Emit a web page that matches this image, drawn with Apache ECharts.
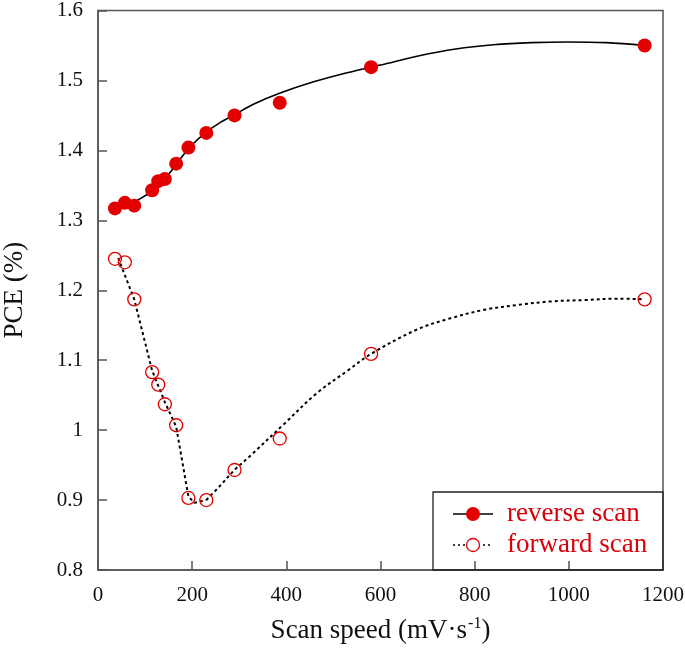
<!DOCTYPE html>
<html>
<head>
<meta charset="utf-8">
<script src="https://cdn.jsdelivr.net/npm/echarts@6/dist/echarts.min.js"></script>
<style>
html,body{margin:0;padding:0;background:#fff;}
#chart{width:685px;height:651px;}
</style>
</head>
<body>
<div id="chart"></div>
<script>
// Measured data points
const speed = [36, 57, 77, 115, 128, 142, 166, 192, 230, 290, 386, 580, 1161];
const reversePCE = [1.317, 1.325, 1.321, 1.343, 1.356, 1.359, 1.381, 1.404, 1.425, 1.450, 1.468, 1.519, 1.550];
const forwardPCE = [1.245, 1.240, 1.187, 1.083, 1.065, 1.037, 1.007, 0.903, 0.900, 0.943, 0.988, 1.109, 1.187];

// Trend curves
const reverseFitX = [36, 60, 90, 120, 150, 175, 200, 230, 260, 290, 330, 387, 458, 529, 600, 680, 760, 840, 920, 1000, 1080, 1161];
const reverseFitY = [1.315, 1.322, 1.331, 1.345, 1.366, 1.388, 1.408, 1.426, 1.440, 1.451, 1.466, 1.482, 1.498, 1.511, 1.522, 1.535, 1.545, 1.551, 1.554, 1.555, 1.554, 1.550];
const forwardFitAX = [43, 77, 115, 142, 166, 192, 205, 230];
const forwardFitAY = [1.246, 1.187, 1.085, 1.040, 1.005, 0.905, 0.896, 0.900];
const forwardFitBX = [230, 260, 290, 323, 394, 465, 530, 580, 678, 749, 820, 891, 962, 1033, 1104, 1161];
const forwardFitBY = [0.900, 0.921, 0.943, 0.963, 1.008, 1.053, 1.085, 1.109, 1.144, 1.160, 1.172, 1.179, 1.184, 1.186, 1.188, 1.187];

const xTicks = [0, 200, 400, 600, 800, 1000, 1200];
const yTicks = [0.8, 0.9, 1.0, 1.1, 1.2, 1.3, 1.4, 1.5, 1.6];
const legendNames = ['reverse scan', 'forward scan'];

const zip = (xs, ys) => xs.map((x, i) => [x, ys[i]]);
const FONT = '"Liberation Serif", "Times New Roman", serif';
const RED = '#e30000';
const AXIS = '#555';

const chart = echarts.init(document.getElementById('chart'));
chart.setOption({
  backgroundColor: '#fff',
  animation: false,
  grid: { left: 98, right: 22, top: 10.5, bottom: 81, containLabel: false, outerBoundsMode: 'none',
    show: true, borderColor: AXIS, borderWidth: 1.5 },
  xAxis: {
    type: 'value', min: xTicks[0], max: xTicks[xTicks.length - 1], interval: 200,
    name: 'Scan speed (mV·s{sup|-1})', nameLocation: 'middle', nameGap: 46,
    nameTextStyle: {
      fontFamily: FONT, fontSize: 27, color: '#111',
      rich: { sup: { fontFamily: FONT, fontSize: 16, color: '#111', verticalAlign: 'bottom', padding: [0, 0, 14, 1] } }
    },
    axisLine: { lineStyle: { color: AXIS, width: 1.5 } },
    axisTick: { inside: true, length: 9, lineStyle: { color: AXIS, width: 1.5 } },
    axisLabel: { fontFamily: FONT, fontSize: 21, color: '#111', margin: 15, formatter: v => String(v) },
    splitLine: { show: false }
  },
  yAxis: {
    type: 'value', min: yTicks[0], max: yTicks[yTicks.length - 1], interval: 0.1,
    name: 'PCE (%)', nameLocation: 'middle', nameGap: 70, nameRotate: 90,
    nameTextStyle: { fontFamily: FONT, fontSize: 27, color: '#111' },
    axisLine: { lineStyle: { color: AXIS, width: 1.5 } },
    axisTick: { inside: true, length: 9, lineStyle: { color: AXIS, width: 1.5 } },
    axisLabel: { fontFamily: FONT, fontSize: 21, color: '#111', margin: 15,
      formatter: v => String(+v.toFixed(1)) },
    splitLine: { show: false }
  },
  series: [
    { type: 'line', data: zip(reverseFitX, reverseFitY), smooth: 0.35, showSymbol: false, symbol: 'none',
      lineStyle: { color: '#000', width: 1.6 }, z: 2 },
    { type: 'line', data: zip(forwardFitAX, forwardFitAY), smooth: false, showSymbol: false, symbol: 'none',
      lineStyle: { color: '#000', width: 2, type: [3, 3] }, z: 2 },
    { type: 'line', data: zip(forwardFitBX, forwardFitBY), smooth: 0.35, showSymbol: false, symbol: 'none',
      lineStyle: { color: '#000', width: 2, type: [3, 3] }, z: 2 },
    { name: legendNames[0], type: 'scatter', data: zip(speed, reversePCE), symbol: 'circle', symbolSize: 14,
      itemStyle: { color: RED, opacity: 1 }, z: 3 },
    { name: legendNames[1], type: 'scatter', data: zip(speed, forwardPCE), symbol: 'circle', symbolSize: 13,
      itemStyle: { color: 'rgba(255,255,255,0)', borderColor: RED, borderWidth: 1.3, opacity: 1 }, z: 3 }
  ],
  graphic: [
    { type: 'rect', shape: { x: 433, y: 492, width: 230, height: 78 },
      style: { fill: 'none', stroke: '#222', lineWidth: 1.3 }, z: 10 },
    { type: 'line', shape: { x1: 453, y1: 514, x2: 493, y2: 514 }, style: { stroke: '#000', lineWidth: 1.6 }, z: 10 },
    { type: 'circle', shape: { cx: 473, cy: 514, r: 7 }, style: { fill: RED }, z: 11 },
    { type: 'text', x: 507, y: 514, style: { text: legendNames[0], font: '27px ' + FONT, fill: '#d9000b', verticalAlign: 'middle' }, z: 10 },
    { type: 'line', shape: { x1: 453, y1: 545, x2: 493, y2: 545 }, style: { stroke: '#000', lineWidth: 1.6, lineDash: [2, 3] }, z: 10 },
    { type: 'circle', shape: { cx: 473, cy: 545, r: 6.5 }, style: { fill: '#fff', stroke: RED, lineWidth: 1.3 }, z: 11 },
    { type: 'text', x: 507, y: 545, style: { text: legendNames[1], font: '27px ' + FONT, fill: '#d9000b', verticalAlign: 'middle' }, z: 10 }
  ]
});
</script>
</body>
</html>
